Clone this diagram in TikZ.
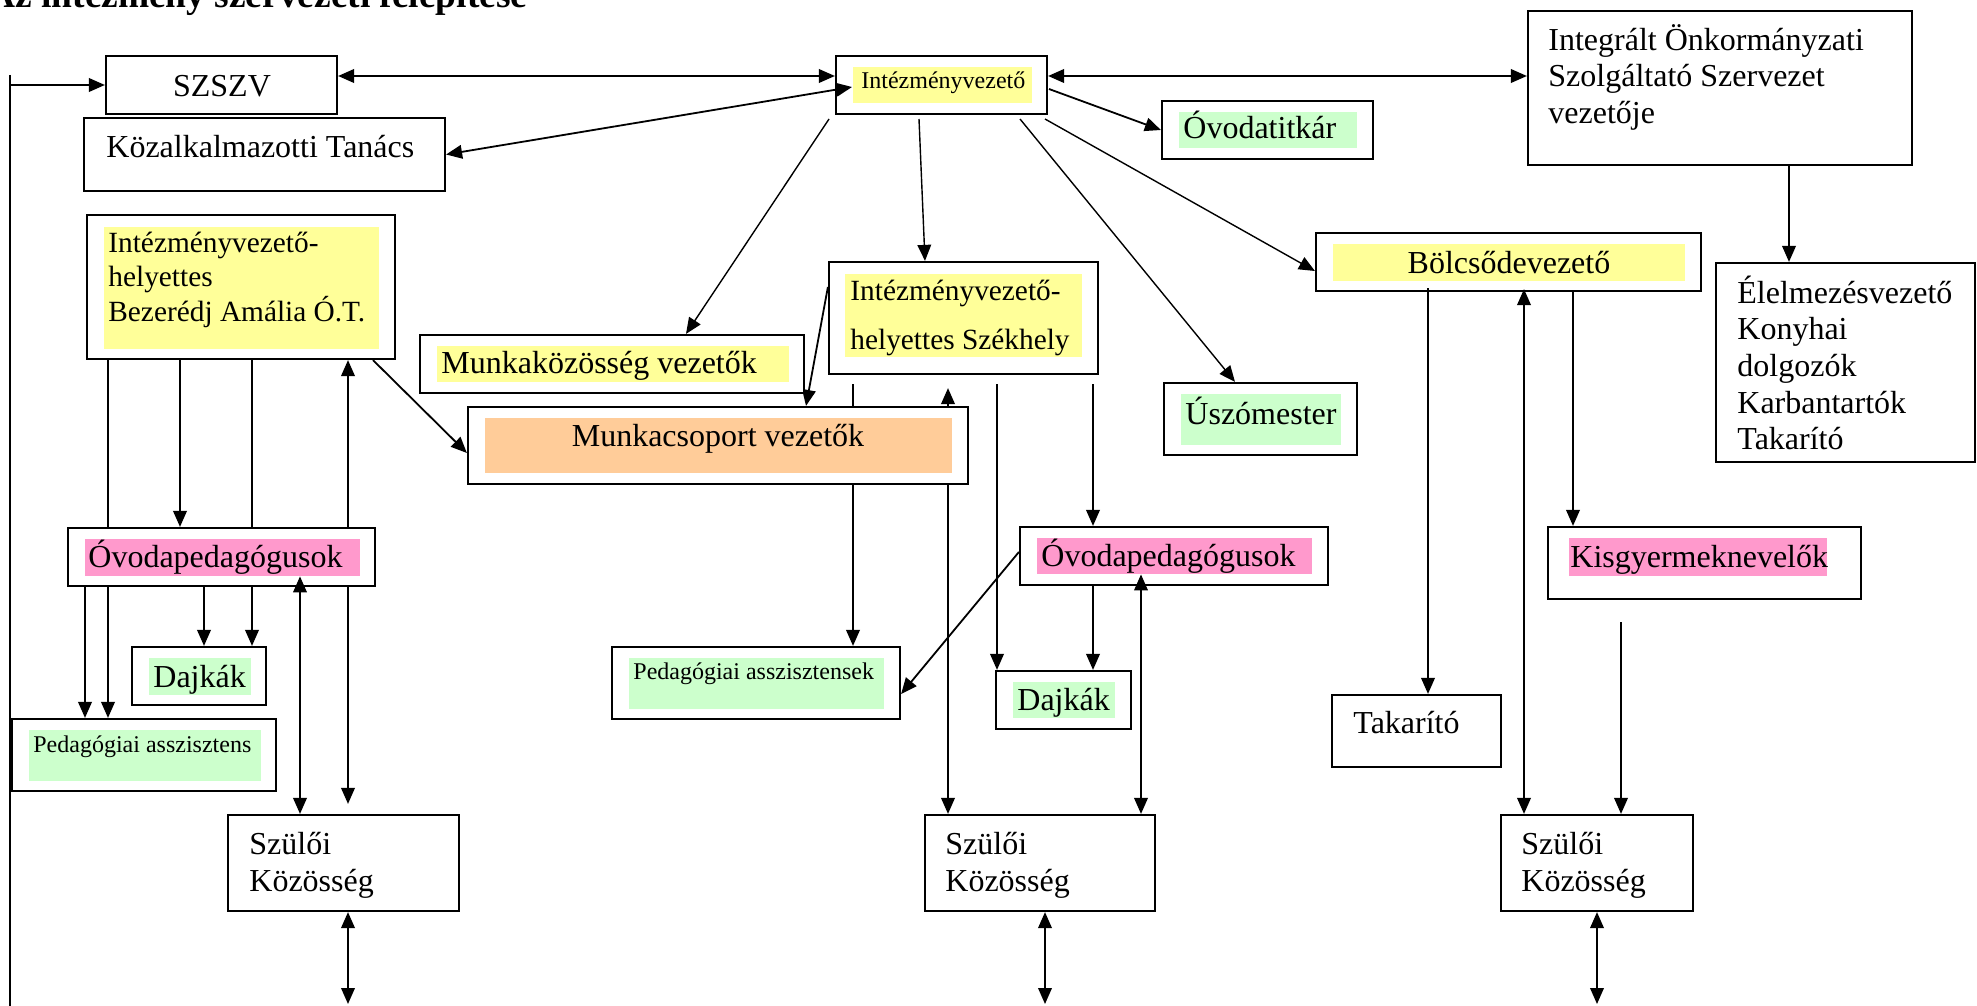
\documentclass[tikz,border=0pt]{standalone}
\usepackage{fontspec}
\setmainfont{Liberation Serif}
\usetikzlibrary{arrows.meta,fit}
\pgfdeclarelayer{bg}
\pgfsetlayers{bg,main}
\definecolor{yel}{HTML}{FFFF99}
\definecolor{grn}{HTML}{CCFFCC}
\definecolor{pnk}{HTML}{FF99CC}
\definecolor{org}{HTML}{FFCC99}
\begin{document}
\begin{tikzpicture}[x=0.5pt,y=-0.5pt,
  box/.style={draw, line width=1.1pt, inner sep=0pt, fill=white},
  hl/.style={inner sep=0pt, draw=none},
  arr/.style={line width=0.9pt, -{Triangle[length=8pt,width=6.8pt]}},
  darr/.style={line width=0.9pt, {Triangle[length=8pt,width=6.8pt]}-{Triangle[length=8pt,width=6.8pt]}},
  thin/.style={line width=0.7pt},
  ln/.style={line width=0.9pt},
  T/.style={anchor=base west, inner sep=0pt, font=\fontsize{16}{18}\selectfont},
  Tc/.style={anchor=base, inner sep=0pt, font=\fontsize{16}{18}\selectfont},
  Tm/.style={anchor=base west, inner sep=0pt, font=\fontsize{14.67}{17}\selectfont},
  Ts/.style={anchor=base west, inner sep=0pt, font=\fontsize{12}{14}\selectfont}]
\useasboundingbox (0,0) rectangle (1977,1006);
\clip (0,0) rectangle (1977,1006);

% title (cut at top, as in the reference)
\node[anchor=base west, inner sep=0pt, font=\bfseries\fontsize{18.7}{22}\selectfont] (title) at (-12,8) {Az intézmény szervezeti felépítése};

% ---------- boxes ----------
\node[box, fit={(106,56)(337,114)}] (szszv) {};
\node[Tc] (szszvT) at (222,97) {SZSZV};

\node[box, fit={(84,118)(445,191)}] (kt) {};
\node[T] (ktT) at (106,158) {Közalkalmazotti Tanács};

\node[box, fit={(87,215)(395,359)}] (bez) {};
\node[hl, fill=yel, fit={(104,227)(379,349)}] (bezF) {};
\node[Tm] (bez1) at (108,252) {Intézményvezető-};
\node[Tm] (bez2) at (108,286) {helyettes};
\node[Tm] (bez3) at (108,321) {Bezerédj Amália Ó.T.};

\node[box, fit={(836,56)(1047,114)}] (iv) {};
\node[hl, fill=yel, fit={(853,67)(1032,103)}] (ivF) {};
\node[Ts] (ivT) at (861,89) {Intézményvezető};

\node[box, fit={(1528,11)(1912,165)}] (isz) {};
\node[T] (isz1) at (1548,51) {Integrált Önkormányzati};
\node[T] (isz2) at (1548,87) {Szolgáltató Szervezet};
\node[T] (isz3) at (1548,124) {vezetője};

\node[box, fit={(1162,101)(1373,159)}] (ot) {};
\node[hl, fill=grn, fit={(1179,112)(1357,148)}] (otF) {};
\node[T] (otT) at (1183,139) {Óvodatitkár};

\node[box, fit={(420,335)(804,393)}] (mk) {};
\node[hl, fill=yel, fit={(437,346)(789,382)}] (mkF) {};
\node[T] (mkT) at (441,373) {Munkaközösség vezetők};

\node[box, fit={(829,262)(1098,374)}] (szh) {};
\node[hl, fill=yel, fit={(845,274)(1082,357)}] (szhF) {};
\node[Tm] (szh1) at (850,300) {Intézményvezető-};
\node[Tm] (szh2) at (850,349) {helyettes Székhely};

\node[box, fit={(468,407)(968,484)}] (mcs) {};
\node[hl, fill=org, fit={(485,418)(952,473)}] (mcsF) {};
\node[Tc] (mcsT) at (718,446) {Munkacsoport vezetők};

\node[box, fit={(1316,233)(1701,291)}] (bv) {};
\node[hl, fill=yel, fit={(1333,244)(1685,281)}] (bvF) {};
\node[Tc] (bvT) at (1509,273) {Bölcsődevezető};

\node[box, fit={(1716,263)(1975,462)}] (el) {};
\node[T] (el1) at (1737,303) {Élelmezésvezető};
\node[T] (el2) at (1737,339) {Konyhai};
\node[T] (el3) at (1737,376) {dolgozók};
\node[T] (el4) at (1737,413) {Karbantartók};
\node[T] (el5) at (1737,449) {Takarító};

\node[box, fit={(1164,383)(1357,455)}] (usz) {};
\node[hl, fill=grn, fit={(1181,394)(1341,445)}] (uszF) {};
\node[Tc] (uszT) at (1261,424) {Úszómester};

\node[box, fit={(68,528)(375,586)}] (op1) {};
\node[hl, fill=pnk, fit={(85,539)(360,576)}] (op1F) {};
\node[T] (op1T) at (88,567) {Óvodapedagógusok};

\node[box, fit={(1020,527)(1328,585)}] (op2) {};
\node[hl, fill=pnk, fit={(1037,538)(1312,574)}] (op2F) {};
\node[T] (op2T) at (1041,566) {Óvodapedagógusok};

\node[box, fit={(1548,527)(1861,599)}] (kgy) {};
\node[hl, fill=pnk, fit={(1569,538)(1827,576)}] (kgyF) {};
\node[T] (kgyT) at (1570,567) {Kisgyermeknevelők};

\node[box, fit={(132,647)(266,705)}] (dj1) {};
\node[hl, fill=grn, fit={(149,658)(251,695)}] (dj1F) {};
\node[T] (dj1T) at (153,687) {Dajkák};

\node[box, fit={(996,671)(1131,729)}] (dj2) {};
\node[hl, fill=grn, fit={(1013,682)(1115,718)}] (dj2F) {};
\node[T] (dj2T) at (1017,710) {Dajkák};

\node[box, fit={(12,719)(276,791)}] (pa1) {};
\node[hl, fill=grn, fit={(29,730)(261,781)}] (pa1F) {};
\node[Ts] (pa1T) at (33,752) {Pedagógiai asszisztens};

\node[box, fit={(612,647)(900,719)}] (pa2) {};
\node[hl, fill=grn, fit={(629,658)(884,709)}] (pa2F) {};
\node[Ts] (pa2T) at (633,679) {Pedagógiai asszisztensek};

\node[box, fit={(1332,695)(1501,767)}] (tk) {};
\node[T] (tkT) at (1353,733) {Takarító};

\node[box, fit={(228,815)(459,911)}] (szk1) {};
\node[T] (szk1a) at (249,854) {Szülői};
\node[T] (szk1b) at (249,891) {Közösség};

\node[box, fit={(925,815)(1155,911)}] (szk2) {};
\node[T] (szk2a) at (945,854) {Szülői};
\node[T] (szk2b) at (945,891) {Közösség};

\node[box, fit={(1501,815)(1693,911)}] (szk3) {};
\node[T] (szk3a) at (1521,854) {Szülői};
\node[T] (szk3b) at (1521,891) {Közösség};

% ---------- helper coordinates ----------
\foreach \c in {10,85,108,180,204,252,300,348,373,686,806,853,925,948,997,1045,1093,1141,1235,1428,1524,1573,1597,1789}
  {\coordinate (c\c) at (\c,0);}
\foreach \r in {76,271,287,453,552,694,1004}
  {\coordinate (r\r) at (0,\r);}
\coordinate (lt) at (10,75);
\coordinate (lb) at (10,1006);
\coordinate (ivin) at (852,87);
\coordinate (ivo) at (1049,89);
\coordinate (iva) at (829,119);
\coordinate (ivb) at (919,119);
\coordinate (ivc) at (1020,119);
\coordinate (ivd) at (1045,119);
\coordinate (kgyo) at (1621,622);

% ---------- connectors behind the boxes ----------
\begin{pgfonlayer}{bg}
\fill[white] (0,0) rectangle (1977,1006);
\draw[ln] (lt) -- (lb);
\draw[arr] (lt |- szszv.west) -- (szszv.west);
\draw[darr] (szszv.east |- r76) -- (iv.west |- r76);
\draw[darr] (iv.east |- r76) -- (isz.west |- r76);
\draw[arr] (ivo) -- (ot.west);
\draw[arr,thin] (iva) -- (mk.north -| c686);
\draw[arr,thin] (ivb) -- (szh.north -| c925);
\draw[arr,thin] (ivc) -- (usz.north -| c1235);
\draw[arr,thin] (ivd) -- (bv.west |- r271);
\draw[arr] (isz.south -| c1789) -- (el.north -| c1789);

\draw[arr] (bez.south -| c108) -- (pa1.north -| c108);
\draw[arr] (bez.south -| c180) -- (op1.north -| c180);
\draw[arr] (bez.south -| c252) -- (dj1.north -| c252);
\draw[darr, shorten >=5pt] (bez.south -| c348) -- (szk1.north -| c348);
\draw[arr] (bez.south -| c373) -- (mcs.west |- r453);

\draw[arr] (szh.west |- r287) -- (mcs.north -| c806);
\draw[arr, shorten <=4.5pt] (szh.south -| c853) -- (pa2.north -| c853);
\draw[darr, shorten <=6.5pt] (szh.south -| c948) -- (szk2.north -| c948);
\draw[arr, shorten <=4.5pt] (szh.south -| c997) -- (dj2.north -| c997);
\draw[arr, shorten <=4.5pt] (szh.south -| c1093) -- (op2.north -| c1093);

\draw[arr] (op1.south -| c85) -- (pa1.north -| c85);
\draw[arr] (op1.south -| c204) -- (dj1.north -| c204);

\draw[arr] (op2.west |- r552) -- (pa2.east |- r694);
\draw[arr] (op2.south -| c1093) -- (dj2.north -| c1093);

\draw[arr] (bv.south -| c1573) -- (kgy.north -| c1573);
\draw[arr] (kgyo) -- (szk3.north -| kgyo);

\draw[darr] (szk1.south -| c348) -- (c348 |- r1004);
\draw[darr] (szk2.south -| c1045) -- (c1045 |- r1004);
\draw[darr] (szk3.south -| c1597) -- (c1597 |- r1004);
\end{pgfonlayer}

% ---------- connectors whose tips lie inside boxes ----------
\draw[darr] (kt.east) -- (ivin);
\draw[darr] (op1F.south -| c300) -- (szk1.north -| c300);
\draw[darr] (op2F.south -| c1141) -- (szk2.north -| c1141);
\draw[arr] ([yshift=2pt]bv.south -| c1428) -- (tk.north -| c1428);
\draw[darr] ([yshift=1.5pt]bv.south -| c1524) -- (szk3.north -| c1524);
\end{tikzpicture}
\end{document}
